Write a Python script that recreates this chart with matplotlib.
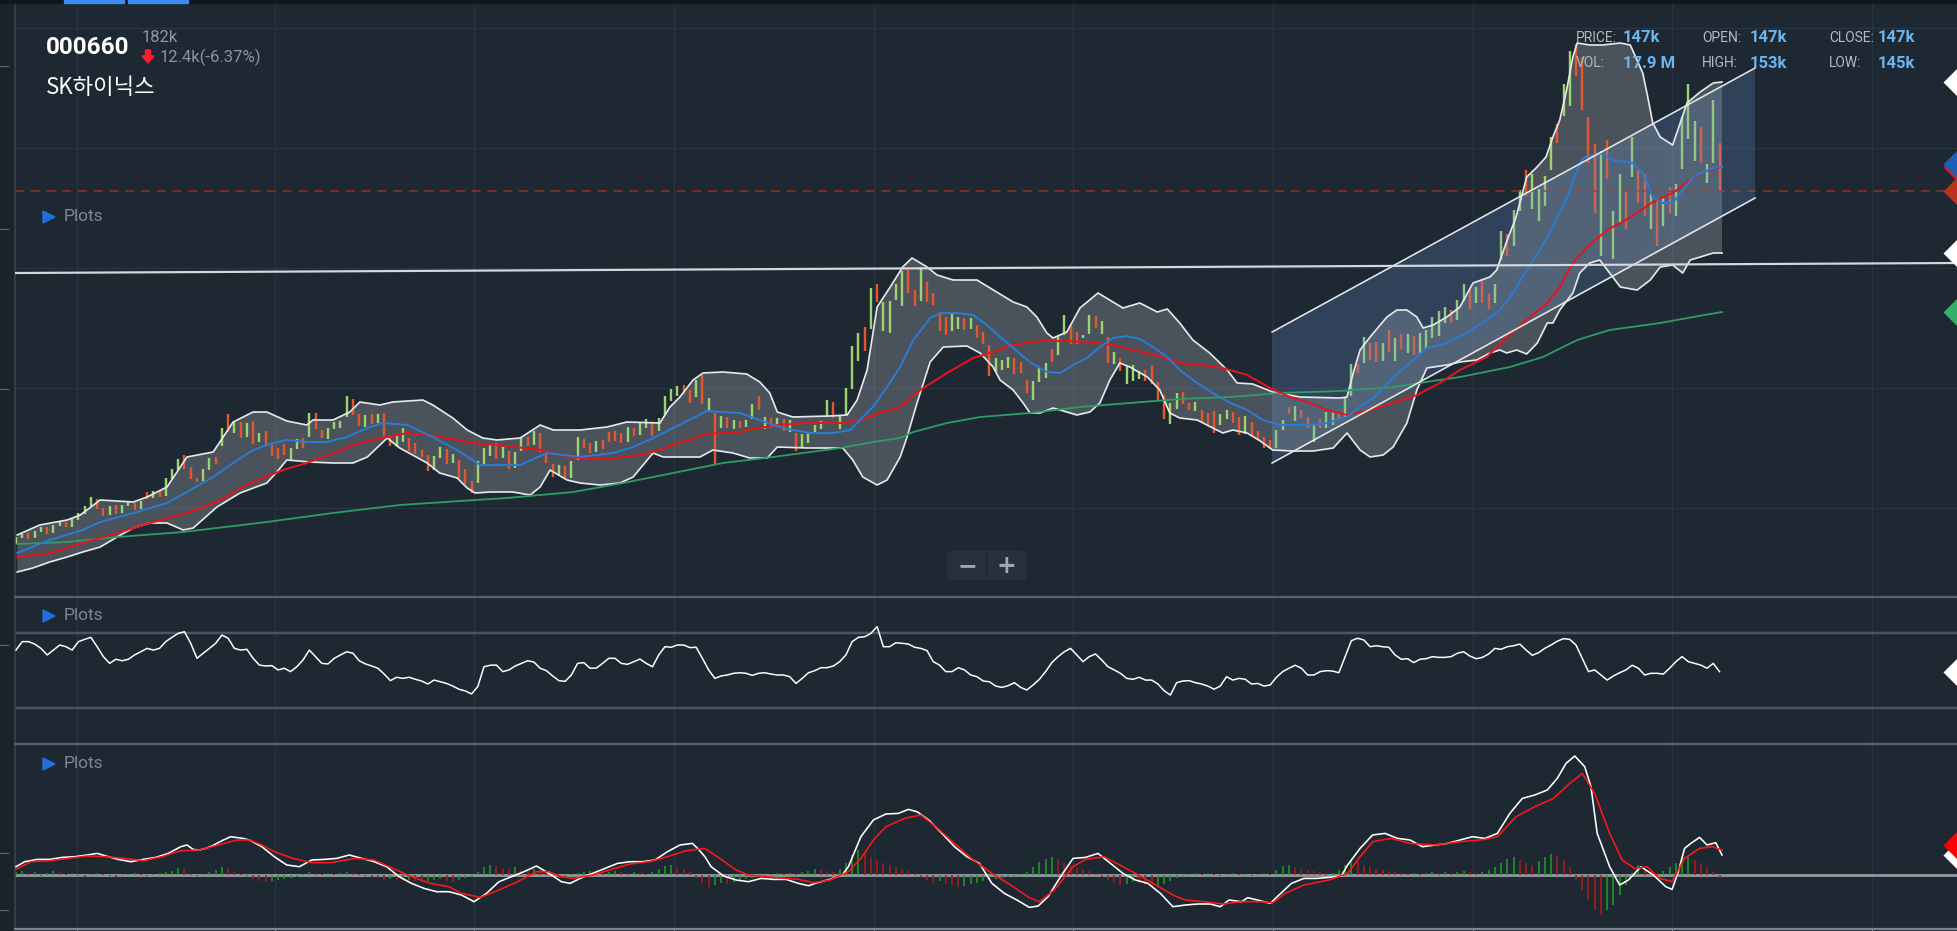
import numpy as np
import matplotlib.pyplot as plt
from matplotlib.lines import Line2D
from matplotlib.patches import Polygon, Rectangle, FancyBboxPatch
from matplotlib import transforms

W, H = 1957, 931
BG = "#1e2833"
GRID = "#283441"
PT = 0.72  # points per pixel at 100 dpi

# ---------------- data ----------------
# daily candles (price in thousand won), day index 0..273
opens = [
    76.4, 77.6, 78.6, 77.6, 78.8, 79.8, 78.6, 80.0, 80.8, 79.8,
    81.2, 82.4, 84.0, 85.4, 83.6, 82.2, 84.2, 82.6, 84.0, 84.6,
    83.4, 86.8, 85.6, 87.2, 86.0, 89.4, 91.2, 94.2, 91.8, 89.6,
    89.0, 91.2, 93.8, 96.0, 102.4, 98.6, 100.8, 97.8, 101.0, 96.8,
    99.0, 96.2, 95.6, 96.4, 93.0, 95.4, 97.6, 97.8, 102.6, 99.2,
    97.4, 99.4, 99.6, 101.8, 105.4, 102.4, 99.8, 102.4, 100.6, 102.6,
    98.2, 95.8, 96.8, 97.6, 96.6, 95.2, 94.2, 91.2, 93.6, 95.4,
    92.6, 93.2, 91.4, 89.0, 88.6, 92.0, 94.0, 96.6, 93.6, 95.0,
    91.6, 95.0, 97.8, 96.2, 98.6, 94.6, 92.4, 90.0, 92.0, 89.6,
    93.2, 97.4, 96.6, 94.8, 97.2, 98.8, 99.0, 98.6, 96.8, 99.6,
    98.2, 99.6, 100.6, 99.0, 102.2, 105.0, 106.0, 108.2, 107.2, 105.8,
    110.2, 102.8, 102.6, 99.6, 101.8, 99.4, 101.0, 99.8, 101.4, 106.0,
    99.4, 101.6, 99.8, 101.4, 98.8, 98.6, 95.8, 96.6, 98.6, 99.4,
    101.8, 104.8, 99.4, 102.2, 107.4, 113.0, 119.8, 119.4, 128.4, 119.0,
    118.6, 125.2, 124.0, 131.2, 127.2, 125.0, 128.8, 126.6, 122.8, 121.8,
    119.0, 119.4, 121.6, 119.4, 120.2, 118.8, 116.2, 110.8, 111.2, 111.6,
    113.6, 112.8, 109.2, 105.2, 108.8, 109.6, 115.4, 114.2, 118.2, 120.0,
    118.8, 117.6, 118.4, 122.0, 118.4, 117.8, 112.4, 113.6, 108.4, 109.0,
    109.4, 111.2, 112.2, 108.8, 106.2, 100.4, 103.4, 106.8, 104.6, 103.0,
    103.2, 102.6, 103.0, 100.2, 101.4, 102.8, 101.8, 98.4, 100.8, 99.0,
    97.8, 97.2, 95.6, 99.2, 103.8, 101.0, 103.2, 101.8, 96.8, 101.4,
    99.6, 100.2, 102.8, 101.8, 106.0, 112.4, 112.6, 116.6, 116.8, 113.0,
    119.2, 113.0, 118.4, 114.6, 118.0, 114.6, 115.4, 117.6, 118.0, 120.6,
    123.2, 121.2, 125.0, 127.2, 124.6, 129.2, 126.4, 124.6, 133.2, 138.4,
    136.0, 143.0, 151.2, 143.4, 141.0, 144.0, 151.2, 160.4, 162.0, 164.0,
    176.4, 173.8, 161.8, 156.4, 134.0, 157.2, 133.4, 140.6, 147.0, 149.8,
    151.2, 150.4, 139.4, 145.2, 140.0, 147.8, 142.0, 151.4, 157.4, 153.0,
    159.8, 148.6, 152.6, 156.6,
]
closes = [
    77.8, 78.4, 77.4, 79.0, 79.8, 78.4, 80.2, 81.0, 79.8, 81.4,
    82.6, 84.0, 85.8, 83.4, 82.0, 84.0, 82.4, 84.2, 84.8, 83.2,
    85.0, 85.4, 87.0, 85.8, 89.6, 91.4, 93.4, 91.4, 89.4, 88.8,
    91.4, 93.6, 92.4, 99.6, 98.8, 101.0, 97.6, 100.6, 96.4, 98.6,
    96.0, 94.0, 93.4, 94.2, 95.6, 97.4, 95.6, 102.6, 99.4, 97.6,
    99.6, 100.8, 101.0, 106.0, 102.2, 100.0, 102.2, 100.4, 102.4, 98.0,
    96.0, 98.4, 99.6, 95.0, 94.4, 93.8, 91.0, 94.0, 95.8, 92.4,
    94.4, 89.6, 88.4, 86.6, 93.0, 95.6, 96.4, 93.4, 95.8, 91.4,
    94.8, 97.6, 96.0, 99.0, 94.8, 92.6, 89.8, 92.2, 89.4, 93.0,
    97.8, 95.6, 94.6, 97.0, 95.4, 96.8, 97.0, 96.6, 99.8, 98.0,
    100.8, 101.4, 98.0, 101.6, 106.0, 107.4, 108.0, 106.4, 104.6, 109.2,
    104.4, 105.6, 92.4, 102.0, 99.6, 101.2, 99.6, 101.2, 104.4, 103.2,
    101.8, 99.6, 101.6, 99.0, 101.2, 95.0, 98.4, 98.8, 100.2, 101.0,
    105.2, 101.6, 102.0, 107.6, 116.0, 118.6, 115.0, 127.6, 124.8, 124.8,
    125.0, 128.4, 131.0, 126.6, 124.0, 131.8, 124.8, 124.2, 119.0, 118.2,
    122.4, 121.8, 119.2, 121.6, 117.6, 116.4, 110.0, 113.6, 113.2, 113.8,
    110.4, 110.6, 106.6, 109.0, 111.6, 112.6, 112.8, 118.0, 122.2, 116.4,
    116.4, 118.2, 122.2, 119.6, 121.0, 112.6, 114.8, 111.0, 112.0, 112.2,
    111.0, 109.0, 108.4, 105.2, 101.4, 104.6, 106.6, 104.4, 103.2, 104.8,
    100.8, 100.2, 98.6, 102.4, 103.2, 100.6, 98.2, 102.0, 97.8, 97.2,
    95.6, 95.4, 99.2, 101.2, 102.4, 104.0, 101.6, 99.6, 100.2, 99.6,
    102.8, 103.0, 101.2, 105.8, 112.4, 110.6, 117.8, 113.2, 112.8, 116.6,
    114.8, 117.6, 115.4, 118.4, 114.2, 118.6, 119.2, 121.8, 123.0, 123.8,
    120.6, 125.2, 128.4, 123.4, 127.8, 124.6, 123.4, 128.4, 139.0, 134.0,
    143.2, 147.2, 146.0, 150.4, 147.4, 150.0, 157.8, 156.6, 168.4, 175.0,
    170.0, 163.2, 152.6, 142.6, 155.0, 149.4, 143.0, 150.4, 139.4, 157.8,
    144.6, 142.0, 146.4, 136.0, 145.8, 142.6, 148.4, 161.8, 168.4, 161.0,
    152.6, 152.4, 165.2, 147.0,
]

# Bollinger bands
upper_days = [0.2, 3.8, 8.2, 10.3, 13.5, 18.8, 21.0, 24.2, 27.4, 31.6, 34.8, 38.0, 40.2, 43.4, 46.6,
              47.6, 50.8, 53.5, 55.1, 58.3, 60.4, 65.2, 66.8, 70.0, 72.3, 74.8, 77.1, 80.8, 84.0, 86.1,
              90.4, 94.7, 97.9, 103.2, 104.8, 106.4, 108.5, 110.1, 113.3, 117.1, 119.2, 120.8, 122.0,
              124.5, 130.4, 133.2, 134.8, 136.4, 138.0, 140.1, 142.1, 143.6, 146.0, 147.6, 150.2, 154.0,
              156.1, 159.8, 162.0, 163.6, 165.2, 166.2, 168.4, 170.5, 173.4, 175.8, 177.4, 180.1, 182.9,
              184.5, 186.5, 188.6, 191.3, 194.1, 195.7, 198.2, 201.4, 205.8, 212.2, 213.3, 214.3, 215.4,
              217.0, 219.7, 221.3, 222.9, 224.5, 225.5, 227.1, 229.3, 231.4, 233.5, 236.2, 237.3, 238.8,
              240.4, 242.1, 243.6, 245.2, 246.3, 247.4, 248.5, 249.5, 250.2, 252.2, 254.3, 257.1, 258.7,
              260.7, 261.5, 262.3, 263.5, 265.5, 266.7, 267.8, 269.9, 272.0, 273.4]
upper_vals = [78.2, 80.2, 81.2, 82.2, 85.2, 84.8, 85.8, 87.8, 93.8, 94.8, 100.8, 102.8, 102.8, 101.0, 100.2,
              101.2, 101.2, 102.8, 104.8, 104.2, 104.8, 105.2, 104.2, 101.6, 99.2, 97.6, 97.2, 97.6, 100.2,
              99.2, 99.2, 99.8, 100.8, 100.6, 103.8, 105.8, 109.2, 110.6, 110.8, 110.4, 108.8, 106.6, 102.8,
              101.8, 102.0, 102.2, 105.2, 111.2, 123.8, 127.8, 131.8, 133.6, 131.8, 130.2, 129.2, 129.2,
              127.6, 124.8, 123.8, 121.8, 118.6, 117.6, 118.8, 123.6, 126.6, 124.8, 123.6, 124.6, 122.8,
              123.4, 120.6, 117.2, 114.6, 111.2, 108.6, 108.4, 106.8, 105.8, 105.6, 105.8, 110.6, 115.2,
              117.8, 121.8, 123.2, 123.2, 121.8, 119.6, 120.2, 121.8, 123.8, 128.6, 129.8, 131.2, 136.6,
              141.8, 149.8, 151.6, 153.8, 157.8, 161.2, 167.2, 173.8, 176.6, 176.2, 176.2, 176.6, 176.2,
              170.6, 165.8, 160.6, 157.8, 156.2, 160.6, 164.6, 166.8, 168.6, 168.8]
lower_days = [0.2, 2.7, 5.4, 8.2, 10.7, 13.5, 16.2, 18.8, 21.5, 24.2, 26.8, 28.4, 32.2, 35.9, 40.2, 41.8,
              43.4, 47.1, 50.8, 54.0, 56.3, 59.5, 61.5, 65.9, 67.9, 70.7, 72.3, 73.6, 76.0, 79.6, 82.4,
              84.0, 85.6, 88.3, 90.4, 93.6, 96.8, 98.9, 102.1, 103.7, 109.6, 111.7, 114.9, 117.6, 120.4,
              122.0, 126.8, 132.5, 134.1, 135.7, 138.0, 139.6, 141.7, 142.8, 144.4, 146.5, 148.6, 152.4,
              154.5, 156.6, 157.7, 159.8, 161.4, 162.5, 164.1, 166.2, 168.4, 170.0, 172.1, 173.7, 175.3,
              176.9, 178.5, 181.3, 183.3, 184.9, 186.5, 189.3, 191.8, 193.4, 195.0, 197.3, 199.4, 201.4,
              204.6, 207.9, 211.1, 213.3, 215.4, 217.0, 219.1, 220.7, 222.9, 224.5, 226.1, 229.3, 231.4,
              234.1, 236.2, 237.8, 238.9, 240.5, 242.1, 243.8, 245.4, 246.3, 247.4, 249.5, 250.6, 252.2,
              253.8, 255.4, 257.1, 259.8, 261.9, 263.5, 265.5, 267.1, 268.3, 269.9, 272.0, 273.4]
lower_vals = [70.8, 71.6, 72.8, 73.8, 74.8, 75.8, 77.8, 79.6, 80.6, 80.6, 79.2, 79.6, 83.8, 86.6, 88.6, 90.8,
              93.2, 92.8, 92.6, 92.6, 93.8, 97.6, 95.6, 92.6, 90.6, 89.6, 87.6, 86.6, 86.8, 86.8, 86.2,
              87.8, 91.2, 89.2, 88.6, 88.2, 88.6, 89.8, 94.6, 93.8, 93.8, 95.2, 94.6, 93.6, 93.6, 95.8,
              95.6, 95.6, 93.2, 89.8, 88.2, 89.2, 93.8, 97.8, 104.6, 112.8, 115.8, 116.0, 114.6, 111.8,
              109.2, 107.2, 104.6, 102.6, 102.6, 103.6, 102.8, 102.2, 102.8, 104.6, 109.2, 112.6, 111.8,
              109.8, 107.2, 102.6, 101.6, 101.2, 99.6, 98.6, 99.2, 98.6, 97.0, 95.2, 95.0, 95.0, 95.6,
              98.6, 95.2, 93.8, 94.2, 95.8, 100.6, 107.2, 111.6, 112.2, 112.8, 113.2, 114.6, 115.2, 114.6,
              115.2, 114.4, 116.6, 120.6, 120.6, 123.2, 126.6, 130.6, 132.6, 133.2, 130.6, 127.8, 127.2,
              129.2, 131.8, 132.2, 130.6, 133.2, 133.8, 134.6, 134.6]

# moving averages
ma_blue_days = [0.2, 5.4, 10.7, 13.5, 18.8, 24.2, 27.4, 31.6, 34.8, 38.0, 41.2, 43.4, 46.6, 49.8, 53.0,
                56.3, 58.8, 62.7, 66.8, 71.2, 74.4, 80.8, 85.1, 87.7, 90.4, 95.7, 98.9, 102.1, 105.3,
                108.5, 110.7, 116.0, 119.2, 121.3, 124.5, 127.2, 130.9, 133.7, 135.7, 137.3, 139.6, 141.7,
                143.8, 146.5, 148.1, 150.8, 153.4, 155.6, 157.7, 159.8, 162.5, 165.2, 167.3, 169.4, 171.6,
                173.7, 175.8, 178.0, 180.1, 182.2, 184.5, 186.5, 189.3, 191.8, 194.6, 197.3, 199.8, 202.6,
                207.4, 210.1, 213.3, 215.4, 218.1, 220.7, 223.4, 226.1, 229.3, 232.5, 235.7, 237.8, 239.9,
                242.1, 244.2, 246.3, 248.6, 250.2, 251.1, 253.8, 255.9, 259.1, 260.7, 262.3, 263.9, 265.5,
                267.1, 268.8, 270.4, 272.0, 273.4]
ma_blue_vals = [74.6, 77.2, 79.2, 80.8, 82.6, 84.6, 86.8, 89.8, 92.6, 95.2, 96.6, 97.2, 96.8, 96.8, 97.8,
                99.6, 100.6, 100.2, 97.8, 94.8, 92.2, 92.2, 94.6, 94.2, 93.8, 94.6, 95.8, 97.6, 99.6, 101.6,
                103.0, 102.6, 101.2, 100.2, 99.2, 98.6, 98.6, 99.2, 101.8, 103.8, 107.8, 111.8, 117.2, 121.6,
                122.6, 122.6, 122.2, 120.2, 117.8, 115.6, 112.8, 110.8, 110.6, 112.2, 113.6, 115.8, 117.6,
                118.0, 117.4, 115.8, 113.8, 111.2, 108.6, 106.6, 104.6, 103.2, 101.2, 100.2, 100.2, 100.6,
                101.8, 103.8, 106.2, 109.8, 112.6, 115.6, 116.6, 118.6, 121.2, 123.2, 126.6, 131.2, 135.2,
                139.8, 145.8, 151.2, 153.6, 154.6, 153.2, 152.6, 150.6, 145.8, 144.6, 144.6, 147.2, 149.8,
                150.8, 151.6, 151.8]
ma_red_days = [0.2, 5.4, 10.7, 16.2, 21.5, 27.4, 32.2, 37.5, 42.8, 46.6, 50.8, 55.1, 59.5, 62.7, 65.9,
               71.2, 73.2, 78.7, 84.0, 89.3, 94.7, 100.0, 103.2, 105.3, 110.7, 116.0, 119.2, 122.0, 126.8,
               132.1, 135.3, 138.5, 141.7, 144.9, 149.2, 153.4, 156.6, 159.8, 164.1, 168.4, 171.6, 175.8,
               179.0, 183.3, 186.5, 189.7, 193.4, 197.3, 201.0, 204.2, 207.4, 210.1, 213.3, 217.0, 220.7,
               224.5, 228.2, 231.4, 235.7, 238.9, 242.1, 245.4, 247.4, 249.5, 251.8, 255.0, 257.1, 259.8,
               262.3, 265.5, 267.8, 270.4, 273.4]
ma_red_vals = [73.8, 74.6, 76.6, 78.6, 80.6, 82.6, 84.8, 88.6, 91.2, 92.6, 94.6, 96.6, 97.8, 98.6, 98.2,
               97.2, 96.6, 96.0, 95.2, 93.6, 93.4, 94.2, 95.2, 96.2, 98.4, 98.8, 99.6, 100.2, 100.6, 100.6,
               101.2, 102.6, 103.8, 107.2, 110.6, 113.6, 114.8, 116.2, 117.0, 117.0, 116.8, 116.2, 115.2,
               114.0, 112.6, 112.2, 111.6, 110.2, 107.6, 105.8, 104.6, 103.2, 102.2, 103.2, 104.6, 106.2,
               108.6, 111.2, 113.8, 117.8, 121.2, 124.6, 127.8, 132.6, 135.8, 139.2, 140.6, 142.6, 144.8,
               146.6, 148.8, 150.8, 151.8]
ma_green_days = [0.2, 8.2, 16.2, 26.8, 40.2, 50.8, 61.5, 71.2, 78.7, 89.3, 97.3, 105.3, 113.3, 121.3, 132.1,
                 137.3, 141.7, 143.8, 149.2, 154.5, 162.5, 170.5, 178.5, 186.5, 194.6, 202.6, 212.2, 220.7,
                 231.4, 239.4, 244.7, 250.2, 255.4, 263.5, 268.8, 273.4]
ma_green_vals = [76.4, 76.8, 77.8, 78.8, 80.8, 82.6, 84.2, 85.0, 85.6, 86.8, 88.6, 90.6, 92.6, 93.8, 95.6,
                 96.8, 97.6, 98.8, 100.6, 101.8, 102.6, 103.8, 104.6, 105.4, 105.8, 106.6, 107.0, 107.8,
                 109.8, 111.8, 113.8, 117.2, 119.2, 120.6, 121.8, 122.8]

# drawn objects: horizontal level and regression channel
level_days = [-0.16, 311.06]
level_vals = [130.6, 132.6]
channel_days = [201.3, 278.7]
channel_upper = [118.8, 171.6]
channel_lower = [92.6, 145.6]

# RSI (daily)
rsi = [
    60.9, 65.4, 65.4, 64.1, 61.8, 58.3, 60.9, 63.6, 62.7, 60.9,
    65.4, 66.6, 67.7, 62.7, 57.4, 53.8, 56.0, 55.2, 56.0, 58.3,
    60.0, 61.8, 60.9, 61.8, 65.4, 67.7, 69.8, 70.7, 64.5, 56.5,
    59.2, 61.8, 64.5, 68.9, 67.2, 61.8, 60.9, 61.3, 56.5, 52.9,
    52.4, 52.6, 50.3, 51.2, 49.4, 52.0, 55.6, 60.9, 57.4, 53.8,
    53.5, 56.5, 58.3, 60.0, 59.2, 55.2, 53.5, 52.4, 51.2, 48.1,
    44.6, 46.4, 45.8, 46.4, 45.3, 44.4, 42.8, 44.9, 44.0, 43.1,
    41.7, 40.0, 39.1, 37.5, 41.4, 52.0, 52.8, 52.9, 49.4, 50.3,
    52.4, 53.8, 55.2, 54.5, 51.2, 49.9, 47.1, 44.6, 44.2, 47.6,
    53.8, 54.2, 51.2, 51.3, 53.8, 56.5, 56.5, 53.8, 53.3, 54.7,
    56.1, 53.8, 52.0, 58.3, 62.7, 62.4, 63.6, 63.6, 62.2, 62.4,
    56.5, 50.3, 45.8, 47.1, 47.6, 48.5, 48.8, 48.5, 47.4, 48.5,
    48.8, 48.1, 47.6, 47.6, 46.7, 43.1, 45.8, 48.8, 49.9, 51.5,
    51.5, 52.4, 54.7, 58.3, 65.4, 67.7, 68.0, 69.8, 73.4, 62.7,
    62.7, 64.8, 64.5, 64.1, 62.4, 61.8, 60.6, 54.7, 52.9, 49.4,
    49.4, 51.5, 50.3, 47.6, 46.7, 44.4, 44.0, 41.7, 41.0, 41.9,
    43.5, 41.0, 39.6, 42.3, 45.3, 49.4, 54.2, 57.4, 60.0, 61.8,
    58.3, 54.7, 57.4, 58.8, 55.6, 52.0, 50.3, 48.5, 45.8, 45.3,
    46.4, 44.9, 44.9, 42.8, 39.2, 36.9, 43.5, 44.4, 44.6, 43.5,
    42.8, 41.7, 40.0, 41.7, 46.7, 44.9, 45.8, 45.3, 42.8, 43.1,
    41.7, 42.3, 46.4, 49.4, 51.2, 52.8, 51.2, 47.6, 47.6, 49.4,
    49.9, 49.7, 48.8, 57.4, 65.9, 67.2, 66.3, 62.7, 63.2, 62.7,
    62.4, 58.3, 56.0, 56.3, 54.2, 56.0, 56.3, 57.4, 57.0, 57.0,
    57.4, 59.2, 60.0, 57.7, 56.3, 57.0, 58.8, 61.8, 61.3, 62.7,
    63.2, 64.1, 60.9, 58.1, 59.5, 61.8, 63.6, 65.6, 67.0, 66.6,
    63.6, 56.5, 49.4, 50.3, 47.6, 44.9, 47.1, 48.8, 50.3, 52.8,
    51.2, 47.6, 48.5, 48.5, 48.1, 51.2, 54.7, 57.4, 54.7, 53.8,
    52.9, 51.2, 53.8, 49.4,
]

# MACD
macd_days = [0.0, 1.4, 3.4, 5.4, 7.4, 9.4, 11.4, 13.0, 14.4, 16.4, 18.4, 20.4, 22.4, 24.4, 26.4, 27.4,
             28.4, 29.4, 30.4, 31.4, 33.0, 34.4, 36.4, 37.4, 39.4, 41.4, 43.4, 45.4, 47.4, 49.4, 51.4,
             53.4, 55.4, 57.4, 59.4, 61.4, 63.4, 65.4, 67.4, 69.4, 71.4, 73.4, 75.4, 77.4, 79.4, 81.4,
             83.4, 85.4, 87.4, 88.8, 90.4, 92.4, 94.4, 96.4, 98.4, 100.4, 102.4, 104.4, 106.4, 108.4,
             109.4, 110.4, 111.4, 113.4, 115.4, 117.4, 119.4, 121.4, 123.4, 125.4, 127.0, 128.4, 130.4,
             132.4, 133.4, 135.4, 137.4, 139.4, 141.4, 143.0, 144.4, 146.4, 148.4, 150.4, 152.4, 154.4,
             156.4, 158.4, 160.4, 162.4, 163.8, 165.4, 167.4, 169.4, 171.4, 173.4, 175.4, 177.4, 179.4,
             181.4, 183.4, 185.4, 187.4, 189.4, 191.4, 193.0, 194.4, 196.4, 197.4, 199.4, 201.0, 202.4,
             204.4, 206.4, 208.4, 210.4, 212.4, 213.4, 215.4, 217.4, 219.4, 221.4, 223.4, 225.4, 227.4,
             229.4, 231.4, 233.4, 235.4, 237.4, 239.4, 241.4, 243.4, 245.4, 247.0, 248.4, 249.8, 251.4,
             252.4, 253.4, 255.4, 257.0, 258.4, 260.4, 262.4, 264.4, 265.4, 266.4, 267.4, 268.4, 269.8,
             271.0, 272.4, 273.4]
macd_vals = [0.8, 1.3, 1.53, 1.53, 1.73, 1.8, 1.97, 2.13, 1.87, 1.53,
             1.3, 1.53, 1.73, 2.13, 2.8, 2.97, 2.53, 2.47, 2.63, 2.87,
             3.4, 3.8, 3.63, 3.47, 2.8, 1.8, 0.97, 0.8, 1.47, 1.53,
             1.63, 1.97, 1.63, 1.3, 0.8, -0.2, -0.87, -1.37, -1.7, -1.7,
             -2.03, -2.7, -1.87, -0.7, -0.2, 0.3, 0.87, 0.13, -0.7, -0.87,
             -0.37, 0.13, 0.63, 1.13, 1.3, 1.3, 1.47, 2.3, 2.97, 3.13,
             2.53, 1.8, 0.8, -0.13, -0.53, -0.7, -0.37, -0.47, -0.47, -0.87,
             -1.1, -0.8, -0.47, -0.03, 0.8, 3.8, 5.47, 6.07, 6.13, 6.53,
             6.3, 5.4, 4.13, 2.8, 1.8, 1.13, -0.87, -1.87, -2.53, -3.27,
             -3.13, -2.2, -0.2, 1.63, 1.73, 2.13, 1.13, 0.13, -0.53, -0.87,
             -1.87, -3.2, -3.03, -2.93, -2.93, -3.2, -2.53, -2.7, -2.3, -2.6,
             -2.87, -2.03, -0.87, -0.37, -0.37, -0.27, -0.13, 0.97, 2.63, 3.97,
             4.13, 3.63, 3.47, 2.8, 2.97, 3.13, 3.47, 3.8, 3.63, 4.13,
             6.13, 7.63, 7.97, 8.47, 9.63, 11.13, 11.87, 10.8, 8.8, 4.13,
             0.8, -1.03, -0.53, 0.8, -0.03, -1.2, -1.47, 0.3, 2.63, 3.13,
             3.73, 2.97, 3.2, 1.97]
signal_days = [0.0, 2.4, 5.4, 8.4, 11.4, 14.4, 17.4, 20.4, 23.4, 26.4, 29.4, 32.4, 35.4, 37.4, 39.4, 41.4,
               44.4, 47.4, 50.4, 54.4, 57.4, 60.4, 63.4, 66.4, 69.4, 71.4, 74.4, 77.4, 80.4, 83.4, 85.4,
               87.4, 89.4, 92.4, 95.4, 98.4, 101.4, 104.4, 107.4, 110.4, 112.4, 115.4, 117.4, 121.4,
               125.4, 127.8, 130.4, 133.4, 135.4, 137.4, 139.4, 142.4, 145.0, 147.4, 150.4, 153.4, 156.4,
               159.4, 162.4, 164.0, 166.4, 169.4, 171.4, 174.4, 177.4, 179.4, 182.4, 185.4, 187.4, 190.4,
               193.4, 196.4, 199.4, 201.4, 203.4, 206.4, 210.4, 213.4, 215.4, 217.4, 220.4, 223.4, 227.4,
               231.4, 235.4, 237.4, 240.4, 243.4, 246.4, 249.0, 251.0, 253.0, 255.4, 257.4, 259.4, 261.4,
               263.4, 265.4, 267.4, 269.8, 271.8, 273.4]
signal_vals = [0.53, 1.3, 1.4, 1.63, 1.87, 1.8, 1.63, 1.4, 1.8, 2.4,
               2.47, 2.97, 3.47, 3.47, 2.97, 2.3, 1.63, 1.2, 1.2, 1.63,
               1.47, 0.63, -0.2, -0.87, -1.2, -1.87, -2.27, -1.53, -0.7, 0.3,
               0.3, -0.2, -0.37, -0.03, 0.53, 1.07, 1.3, 1.8, 2.4, 2.63,
               1.8, 0.47, -0.03, -0.27, -0.47, -0.8, -0.53, 0.3, 1.63, 3.47,
               4.8, 5.63, 5.97, 4.8, 3.13, 1.47, 0.13, -1.03, -2.3, -2.7,
               -1.53, 0.8, 1.53, 1.8, 0.8, 0.13, -0.93, -2.03, -2.53, -2.7,
               -2.93, -2.7, -2.7, -2.8, -1.87, -1.03, -0.53, 0.13, 1.8, 3.3,
               3.63, 3.13, 2.97, 3.3, 3.53, 3.8, 5.8, 6.8, 7.63, 9.13,
               10.13, 8.13, 4.13, 1.47, 0.63, 0.8, -0.37, -0.7, 1.63, 2.63,
               2.8, 2.47]
macd_hist = [
    0.3, 0.4, 0.2, 0.3, -0.1, 0.2, 0.4, 0.3, 0.1, 0.2, -0.1, -0.2, 0.1, 0.2, 0.1,
    -0.1, -0.2, -0.1, 0.1, 0.2, 0.1, -0.1, 0.1, 0.2, 0.3, 0.4,
    0.7, 0.6, 0.2, -0.1, 0.1, 0.3, 0.5,
    0.8, 0.7, 0.3, 0.1, -0.1,
    -0.4, -0.6, -0.7, -0.6, -0.5, -0.4, -0.3, -0.2, 0.1,
    0.3, 0.2, 0.1, 0.2, 0.1, 0.2, 0.3, 0.2, 0.1, -0.1, -0.2,
    -0.3, -0.5, -0.4, -0.5, -0.6, -0.5, -0.6, -0.7, -0.6,
    -0.5, -0.4, -0.6, -0.7, -0.5, -0.3, -0.2, 0.3,
    0.8, 1.0, 0.9, 0.7, 0.6, 0.8, 0.5, 0.4, 0.6, 0.5, 0.3,
    -0.2, -0.3, -0.2, 0.1, 0.2,
    0.3, 0.4, 0.3, 0.2, 0.3, 0.4, 0.3, 0.2, 0.3, 0.2, 0.1, 0.3, 0.6,
    0.9, 1.0, 0.8, 0.6, 0.3,
    -0.3, -0.8, -1.2, -1.0, -0.8, -0.9, -0.7, -0.5, -0.4, -0.3,
    -0.2, -0.1, 0.1, 0.2, 0.1, 0.2, 0.1, 0.3,
    0.4, 0.6, 0.5, 0.4, 0.3, 0.6,
    1.2, 2.0, 2.5, 2.2, 1.8, 1.5, 1.2, 1.0, 0.8,
    0.6, 0.4, 0.2, -0.2, -0.5,
    -0.8, -0.6, -0.9, -1.0, -1.2, -1.1, -0.9, -0.8, -0.6, -0.5, -0.4, -0.3, -0.2,
    -0.1, 0.1, 0.3, 0.8, 1.3, 1.6,
    1.8, 1.6, 1.2, 0.9, 0.7, 0.5, 0.4, 0.2,
    -0.2, -0.5, -0.8, -1.0, -0.9, -0.7, -0.8, -1.0, -1.2, -1.1,
    -0.9, -0.6, -0.3, -0.1, 0.1, 0.2,
    0.1, 0.2, 0.1, -0.1, 0.1, 0.2, 0.1, 0.1, -0.1, 0.1, 0.2, 0.1,
    0.5, 0.9, 1.0, 0.8, 0.6, 0.5, 0.4, 0.3, 0.2, 0.2,
    0.5, 1.0, 1.5, 1.3, 1.0, 0.8, 0.6, 0.5, 0.4, 0.3, 0.2,
    0.1, 0.2, 0.1, 0.2, 0.3, 0.2, 0.3, 0.2, 0.3, 0.4, 0.3, 0.2, 0.3, 0.5, 0.8,
    1.2, 1.6, 1.8, 1.5, 1.2, 1.0, 1.4, 1.8, 2.1, 1.9, 1.5, 0.8,
    -0.5, -1.5, -2.5, -3.5, -4.0, -3.5, -3.0, -2.0,
    -1.0, 0.2, 1.0, 0.6, 0.3, 0.2,
    0.4, 0.8, 1.2, 1.6, 1.8, 1.5, 1.2, 0.8, 0.3, -0.3,
]

month_ticks = [9.8, 41.5, 73.4, 105.4, 137.5, 169.4, 201.4, 233.5, 265.4, 297.4]
price_grid = [179.6, 155.6, 131.6, 107.6, 83.6]
price_ticks = [172.0, 139.4, 107.4]
rsi_ticks = [63.6]
macd_ticks = [2.17, -3.53]

XMIN, XMAX = -0.16, 311.06

# ---------------- figure ----------------
fig = plt.figure(figsize=(W / 100, H / 100), dpi=100, facecolor=BG)


def fx(x):
    return x / W


def fy(y):
    return 1 - y / H


def panel(top, bottom):
    a = fig.add_axes([fx(15), fy(bottom), 1 - fx(15), (bottom - top) / H])
    a.set_facecolor(BG)
    a.set_xlim(XMIN, XMAX)
    for s in ("top", "right", "bottom"):
        a.spines[s].set_visible(False)
    a.spines["left"].set_color("#3a4550")
    a.spines["left"].set_linewidth(1.5 * PT)
    a.set_xticks(month_ticks)
    a.set_yticks([])
    a.tick_params(axis="x", length=0, labelbottom=False)
    a.grid(axis="x", color=GRID, lw=1.3 * PT)
    a.set_axisbelow(True)
    return a


# left strip and top strip
fig.add_artist(Rectangle((0, 0), fx(15), 1, transform=fig.transFigure, color="#1a232c", zorder=0))
fig.add_artist(Rectangle((0, fy(3)), 1, 3 / H, transform=fig.transFigure, color="#10161c", zorder=5))
for x0, x1 in [(64, 124), (128, 188)]:
    fig.add_artist(Rectangle((fx(x0), fy(3)), fx(x1 - x0), 3 / H, transform=fig.transFigure,
                             color="#3d8bf5", zorder=6))

DIAMOND = [(-1, 0), (0, 1), (1, 0), (0, -1)]


def edge_marker(a, val, color):
    a.plot([XMAX], [val], marker=DIAMOND, ms=28 * PT, color=color, mew=0, clip_on=True, zorder=9)


# ---- main price panel ----
ax = panel(3, 597)
ax.set_ylim(65.8, 184.6)
for g in price_grid:
    ax.axhline(g, color=GRID, lw=1.3 * PT, zorder=0)

ax.fill(np.r_[upper_days, lower_days[::-1]], np.r_[upper_vals, lower_vals[::-1]],
        color="white", alpha=0.2, lw=0, zorder=1)

days = np.arange(len(opens))
o = np.array(opens)
c = np.array(closes)
ccol = np.where(c >= o, "#9fd36e", "#e4572e")
ax.vlines(days, np.minimum(o, c), np.maximum(o, c), colors=ccol, lw=2.4 * PT, zorder=2)

ax.axhline(closes[-1], color="#93321f", lw=1.5 * PT, dashes=(6, 4.5), zorder=2.5)

ax.fill([channel_days[0], channel_days[1], channel_days[1], channel_days[0]],
        [channel_upper[0], channel_upper[1], channel_lower[1], channel_lower[0]],
        color="#6f9ad8", alpha=0.23, lw=0, zorder=3)

ax.plot(upper_days, upper_vals, color="#e6e8ea", lw=1.7 * PT, zorder=4)
ax.plot(lower_days, lower_vals, color="#e6e8ea", lw=1.7 * PT, zorder=4)
ax.plot(ma_green_days, ma_green_vals, color="#2e9d64", lw=1.8 * PT, zorder=5)
ax.plot(ma_red_days, ma_red_vals, color="#e8141c", lw=2.0 * PT, zorder=5)
ax.plot(ma_blue_days, ma_blue_vals, color="#2a7bd4", lw=2.0 * PT, zorder=5)
ax.plot(channel_days, channel_upper, color="#e6e8ea", lw=1.6 * PT, zorder=6)
ax.plot(channel_days, channel_lower, color="#e6e8ea", lw=1.6 * PT, zorder=6)
ax.plot(level_days, level_vals, color="#d4d8dc", lw=2.2 * PT, zorder=6)

edge_marker(ax, upper_vals[-1], "white")
edge_marker(ax, ma_red_vals[-1], "#e8141c")
edge_marker(ax, ma_blue_vals[-1] + 0.6, "#1f5fb8")
edge_marker(ax, closes[-1], "#b8321c")
edge_marker(ax, lower_vals[-1], "white")
edge_marker(ax, ma_green_vals[-1], "#34b06c")

# ---- RSI panel ----
ax_rsi = panel(597, 744)
ax_rsi.set_ylim(10.8, 89.2)
for lvl in (70, 30):
    ax_rsi.axhline(lvl, color="#4a5561", lw=2.5 * PT, zorder=1)
ax_rsi.plot(np.arange(len(rsi)), rsi, color="white", lw=1.5 * PT, zorder=4)
edge_marker(ax_rsi, rsi[-1], "white")

# ---- MACD panel ----
ax_macd = panel(744, 929)
ax_macd.set_ylim(-5.43, 13.07)
ax_macd.tick_params(axis="x", length=3 * PT, color="#8a9198", direction="out")
ax_macd.axhline(0, color="#8a9198", lw=3 * PT, zorder=1)
h = np.array(macd_hist)
hcol = np.where(np.r_[h[0], np.diff(h)] >= 0, "#1f9a22", "#a91c1c")
ax_macd.vlines(np.arange(len(h)), 0, h, colors=hcol, lw=1.6 * PT, zorder=2)
ax_macd.plot(macd_days, macd_vals, color="white", lw=1.6 * PT, zorder=4)
ax_macd.plot(signal_days, signal_vals, color="#ff1616", lw=1.6 * PT, zorder=5)
edge_marker(ax_macd, macd_vals[-1], "white")
edge_marker(ax_macd, signal_vals[-1] + 0.5, "#ff0000")

# left tick marks
for a, ticks in ((ax, price_ticks), (ax_rsi, rsi_ticks), (ax_macd, macd_ticks)):
    tr = transforms.blended_transform_factory(fig.transFigure, a.transData)
    for t in ticks:
        fig.add_artist(Line2D([0, fx(8)], [t, t], transform=tr, color="#5d6873", lw=1.2 * PT))

# panel separators
for y, col in ((597, "#5a636d"), (744, "#5a636d"), (929, "#7b848d")):
    fig.add_artist(Line2D([fx(15), 1], [fy(y), fy(y)], transform=fig.transFigure,
                          color=col, lw=2.2 * PT, zorder=8))

# "Plots" labels
for yc in (217, 616, 764):
    fig.add_artist(Polygon([(fx(43), fy(yc - 6)), (fx(43), fy(yc + 6)), (fx(55), fy(yc))],
                           closed=True, transform=fig.transFigure, color="#1f6fe0", zorder=10))
    fig.text(fx(64), fy(yc), "Plots", color="#7d8893", fontsize=12.5, family="Roboto",
             va="center", ha="left", zorder=10)

# header
fig.text(fx(46), fy(47), "000660", color="white", fontsize=17.5, family="Roboto", weight="bold",
         va="center", ha="left")
fig.text(fx(142), fy(37), "182k", color="#8c959e", fontsize=12, family="Roboto", va="center", ha="left")
arrow = [(145.5, 50), (150.5, 50), (150.5, 56), (154, 56), (148, 63), (142, 56), (145.5, 56)]
fig.add_artist(Polygon([(fx(x), fy(y)) for x, y in arrow], closed=True, transform=fig.transFigure,
                       color="#ff1a2e", zorder=10))
fig.text(fx(160), fy(57), "12.4k(-6.37%)", color="#8c959e", fontsize=12, family="Roboto",
         va="center", ha="left")
fig.text(fx(46), fy(87), "SK하이닉스", color="white", fontsize=16,
         family=["Noto Sans CJK KR", "DejaVu Sans"], va="center", ha="left")

# price info block
info = [("PRICE:", "147k", 1576, 1623, 38), ("VOL:", "17.9 M", 1576, 1623, 63),
        ("OPEN:", "147k", 1702, 1750, 38), ("HIGH:", "153k", 1702, 1750, 63),
        ("CLOSE:", "147k", 1829, 1878, 38), ("LOW:", "145k", 1829, 1878, 63)]
for lab, val, xl, xv, yc in info:
    fig.text(fx(xl), fy(yc), lab, color="#b3bac1", fontsize=10, family="Roboto",
             va="center", ha="left", zorder=10)
    fig.text(fx(xv), fy(yc), val, color="#6cb4ee", fontsize=12, family="Roboto", weight="bold",
             va="center", ha="left", zorder=10)

# zoom buttons
fig.add_artist(FancyBboxPatch((fx(947), fy(580)), fx(79), 29 / H, boxstyle="round,pad=0,rounding_size=0.002",
                              transform=fig.transFigure, fc="#26313c", ec="none", zorder=10))
fig.add_artist(Line2D([fx(987), fx(987)], [fy(553), fy(578)], transform=fig.transFigure,
                      color="#1e2833", lw=1.5 * PT, zorder=11))
fig.text(fx(967), fy(566), "\u2212", color="#a0a8b0", fontsize=17, weight="bold",
         ha="center", va="center", zorder=12)
fig.text(fx(1006), fy(566), "+", color="#a0a8b0", fontsize=17, weight="bold",
         ha="center", va="center", zorder=12)

fig.savefig("out.png", dpi=100, facecolor=BG)
